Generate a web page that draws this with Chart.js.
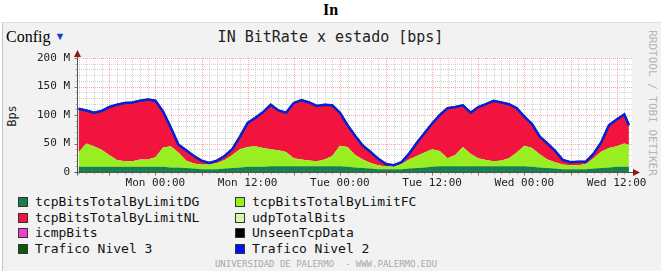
<!DOCTYPE html>
<html>
<head>
<meta charset="utf-8">
<script src="https://cdn.jsdelivr.net/npm/chart.js@4.4.0/dist/chart.umd.min.js"></script>
<style>
body { margin: 0; width: 661px; height: 271px; position: relative; overflow: hidden; background: #fff;
       font-family: "DejaVu Sans Mono", monospace; }
#panel { position: absolute; left: 2px; top: 22px; width: 659px; height: 249px; box-sizing: border-box;
         background: #f2f2f2; border-left: 1px solid #c4c4c4; border-top: 1px solid #dedede; }
#grafico { position: absolute; left: 0; top: 0; }
.t { position: absolute; white-space: pre; }
.cuadro { position: absolute; width: 8px; height: 8px; border: 1px solid #333; }
.leyenda { position: absolute; white-space: pre; font-size: 13px; line-height: 15px; color: #111; }
</style>
</head>
<body>
<div id="panel"></div>
<div class="t" style="left:0;width:661px;top:1px;text-align:center;font:bold 16px 'Liberation Serif',serif;">In</div>
<div class="t" style="left:6px;top:28px;font:16px 'Liberation Serif',serif;">Config <span style="color:#1a3fd8;font-size:11px;vertical-align:2px;">&#9660;</span></div>
<div class="t" style="left:0;width:661px;top:28px;text-align:center;font-size:15px;color:#222;">IN BitRate x estado [bps]</div>
<div class="t" style="left:12px;top:116px;font-size:12px;color:#222;transform:translate(-50%,-50%) rotate(-90deg);">Bps</div>
<div class="t" style="left:652px;top:103px;font-size:11px;color:#b4b4b4;transform:translate(-50%,-50%) rotate(90deg);">RRDTOOL / TOBI OETIKER</div>
<div class="t" style="left:0;width:652px;top:259px;text-align:center;font-size:9px;color:#a8a8a8;">UNIVERSIDAD DE PALERMO  - WWW.PALERMO.EDU</div>
<div id="leyenda"></div>
<canvas id="grafico" width="661" height="271"></canvas>
<script>
// horas desde el lunes 00:00
const horas = [-10, -9, -8, -7, -6, -5, -4, -3, -2, -1,
  0, 1, 2, 3, 4, 5, 6, 7, 8, 9, 10, 11,
  12, 13, 14, 15, 16, 17, 18, 19, 20, 21, 22, 23,
  24, 25, 26, 27, 28, 29, 30, 31, 32, 33, 34, 35,
  36, 37, 38, 39, 40, 41, 42, 43, 44, 45, 46, 47,
  48, 49, 50, 51, 52, 53, 54, 55, 56, 57, 58, 59,
  60, 61, 61.6];

// valores en Mbps
const tcpDG = [9, 9, 9, 9, 9, 9, 9, 9, 9, 9,
  9, 9, 8, 8, 7, 6, 5, 5, 5, 6, 7, 8,
  9, 9, 9, 10, 10, 10, 10, 10, 10, 10, 10, 10,
  10, 9, 8, 7, 6, 5, 5, 5, 5, 6, 7, 8,
  9, 10, 10, 10, 10, 10, 10, 10, 10, 10, 10, 10,
  10, 9, 8, 7, 6, 5, 5, 5, 5, 6, 7, 8,
  9, 9, 9];

const tcpFC = [25, 41, 36, 30, 21, 12, 10, 10, 13, 13,
  17, 34, 37, 26, 13, 9, 8, 8, 11, 15, 23, 32,
  35, 36, 33, 30, 28, 25, 14, 12, 10, 9, 12, 18,
  36, 35, 22, 15, 10, 7, 4.5, 5, 9, 16, 21, 26,
  31, 27, 14, 20, 34, 22, 14, 11, 9, 10, 14, 24,
  36, 33, 23, 15, 11, 8, 7, 7, 9, 18, 29, 34,
  36, 41, 39];

const tcpNL = [77, 58, 59, 68, 84, 97, 102, 103, 103, 105,
  99, 63, 33, 14, 18, 13, 7, 3, 4, 7, 10, 22,
  42, 50, 63, 78, 70, 69, 97, 104, 102, 97, 96, 89,
  58, 38, 33, 24, 19, 11, 4.5, 2, 3, 10, 23, 34,
  45, 63, 88, 84, 73, 72, 90, 98, 106, 102, 95, 78,
  51, 42, 31, 28, 20, 8, 5, 6, 4, 8, 16, 40,
  47, 51, 34];

const etiquetasX = { 0: 'Mon 00:00', 12: 'Mon 12:00', 24: 'Tue 00:00', 36: 'Tue 12:00', 48: 'Wed 00:00', 60: 'Wed 12:00' };

const leyenda = [
  ['tcpBitsTotalByLimitDG', '#17804a'], ['tcpBitsTotalByLimitFC', '#94f020'],
  ['tcpBitsTotalByLimitNL', '#f2143f'], ['udpTotalBits', '#d6f7a6'],
  ['icmpBits', '#f23ec8'], ['UnseenTcpData', '#000000'],
  ['Trafico Nivel 3', '#0b5a0b'], ['Trafico Nivel 2', '#0010f0']
];

const colorDG = '#17804a';
const colorFC = '#99ee22';
const colorNL = '#f2143f';

function puntos(serie) {
  return horas.map((h, i) => ({ x: h, y: serie[i] }));
}
const total = horas.map((h, i) => tcpDG[i] + tcpFC[i] + tcpNL[i]);

function crearLeyenda() {
  const caja = document.getElementById('leyenda');
  leyenda.forEach(([nombre, color], i) => {
    const fila = Math.floor(i / 2), col = i % 2;
    const cy = 202 + fila * 15.5;
    const x0 = col === 0 ? 18 : 235;
    const c = document.createElement('div');
    c.className = 'cuadro';
    c.style.left = x0 + 'px';
    c.style.top = (cy - 5) + 'px';
    c.style.background = color;
    caja.appendChild(c);
    const t = document.createElement('div');
    t.className = 'leyenda';
    t.style.left = (x0 + 17) + 'px';
    t.style.top = (cy - 8) + 'px';
    t.textContent = nombre;
    caja.appendChild(t);
  });
}

function linea(ctx, x1, y1, x2, y2) {
  ctx.beginPath();
  ctx.moveTo(x1, y1);
  ctx.lineTo(x2, y2);
  ctx.stroke();
}

// fondo blanco y rejilla punteada al estilo rrdtool
const rejilla = {
  id: 'rejilla',
  beforeDraw(chart) {
    const { ctx, chartArea: a, scales: { x, y } } = chart;
    ctx.save();
    ctx.fillStyle = '#ffffff';
    ctx.fillRect(a.left, a.top, a.right - a.left, a.bottom - a.top);
    ctx.lineWidth = 1;
    ctx.setLineDash([1, 1]);
    for (let h = -10; h <= 62; h++) {
      const px = Math.round(x.getPixelForValue(h)) + 0.5;
      if (px <= a.left || px > a.right) continue;
      ctx.strokeStyle = h % 6 === 0 ? 'rgba(255,80,80,0.5)' : 'rgba(170,170,170,0.5)';
      linea(ctx, px, a.top, px, a.bottom);
    }
    for (let v = 10; v <= 200; v += 10) {
      const py = Math.round(y.getPixelForValue(v)) + 0.5;
      ctx.strokeStyle = v % 50 === 0 ? 'rgba(255,80,80,0.5)' : 'rgba(170,170,170,0.5)';
      linea(ctx, a.left, py, a.right, py);
    }
    ctx.restore();
  },
  afterDraw(chart) {
    const { ctx, chartArea: a, scales: { x, y } } = chart;
    ctx.save();
    ctx.lineWidth = 1;
    ctx.setLineDash([]);
    const ejeY = Math.round(a.bottom) + 0.5;
    const ejeX = Math.round(a.left) + 0.5;
    // marcas
    for (let h = -10; h <= 62; h++) {
      const px = Math.round(x.getPixelForValue(h)) + 0.5;
      if (px <= a.left || px > a.right) continue;
      ctx.strokeStyle = h % 6 === 0 ? '#e05050' : '#b0b0b0';
      linea(ctx, px, ejeY, px, ejeY + (h % 6 === 0 ? 3 : 2));
    }
    for (let v = 10; v <= 200; v += 10) {
      const py = Math.round(y.getPixelForValue(v)) + 0.5;
      ctx.strokeStyle = v % 50 === 0 ? '#e05050' : '#b0b0b0';
      linea(ctx, ejeX - (v % 50 === 0 ? 3 : 2), py, ejeX, py);
    }
    ctx.strokeStyle = '#555';
    linea(ctx, ejeX - 3, ejeY, a.right + 2, ejeY);
    linea(ctx, ejeX, ejeY + 3, ejeX, a.top - 3);
    ctx.fillStyle = '#8b1a1a';
    ctx.beginPath();
    ctx.moveTo(a.right + 1, ejeY - 3.5);
    ctx.lineTo(a.right + 8, ejeY);
    ctx.lineTo(a.right + 1, ejeY + 3.5);
    ctx.fill();
    ctx.beginPath();
    ctx.moveTo(ejeX - 3.5, a.top - 1);
    ctx.lineTo(ejeX, a.top - 8);
    ctx.lineTo(ejeX + 3.5, a.top - 1);
    ctx.fill();
    ctx.restore();
  }
};

function main() {
  crearLeyenda();
  Chart.defaults.font.family = "'DejaVu Sans Mono', monospace";

  new Chart(document.getElementById('grafico').getContext('2d'), {
    type: 'line',
    data: {
      datasets: [
        { label: 'tcpBitsTotalByLimitDG', data: puntos(tcpDG), stack: 'trafico', fill: 'origin',
          backgroundColor: colorDG, borderColor: 'rgba(0,0,0,0)', borderWidth: 0 },
        { label: 'tcpBitsTotalByLimitFC', data: puntos(tcpFC), stack: 'trafico', fill: '-1',
          backgroundColor: colorFC, borderColor: 'rgba(0,0,0,0)', borderWidth: 0 },
        { label: 'tcpBitsTotalByLimitNL', data: puntos(tcpNL), stack: 'trafico', fill: '-1',
          backgroundColor: colorNL, borderColor: 'rgba(0,0,0,0)', borderWidth: 0 },
        { label: 'Trafico Nivel 2', data: puntos(total), stack: 'nivel2', fill: false,
          borderColor: '#0a14ff', borderWidth: 2 },
        { label: 'Trafico Nivel 3', data: puntos(total), stack: 'nivel3', fill: false,
          borderColor: '#0b5a0b', borderWidth: 2.5 }
      ]
    },
    options: {
      responsive: false,
      animation: false,
      elements: { point: { radius: 0 }, line: { tension: 0 } },
      layout: { padding: { left: 0, top: 58, right: 29, bottom: 79 } },
      plugins: {
        legend: { display: false },
        tooltip: { enabled: false },
        filler: { drawTime: 'beforeDatasetsDraw' }
      },
      scales: {
        x: {
          type: 'linear',
          min: -10.2,
          max: 62,
          grid: { display: false, drawTicks: false },
          border: { display: false },
          afterFit: (s) => { s.height = 20; },
          ticks: {
            stepSize: 12,
            includeBounds: false,
            autoSkip: false,
            maxRotation: 0,
            padding: 5,
            color: '#222',
            font: { size: 11 },
            callback: (v) => etiquetasX[v] || ''
          }
        },
        y: {
          stacked: true,
          min: 0,
          max: 200,
          grid: { display: false, drawTicks: false },
          border: { display: false },
          afterFit: (s) => { s.width = 77; },
          ticks: {
            stepSize: 50,
            padding: 7,
            color: '#222',
            font: { size: 11 },
            callback: (v) => v === 0 ? '0' : v + ' M'
          }
        }
      }
    },
    plugins: [rejilla]
  });
}

main();
</script>
</body>
</html>
